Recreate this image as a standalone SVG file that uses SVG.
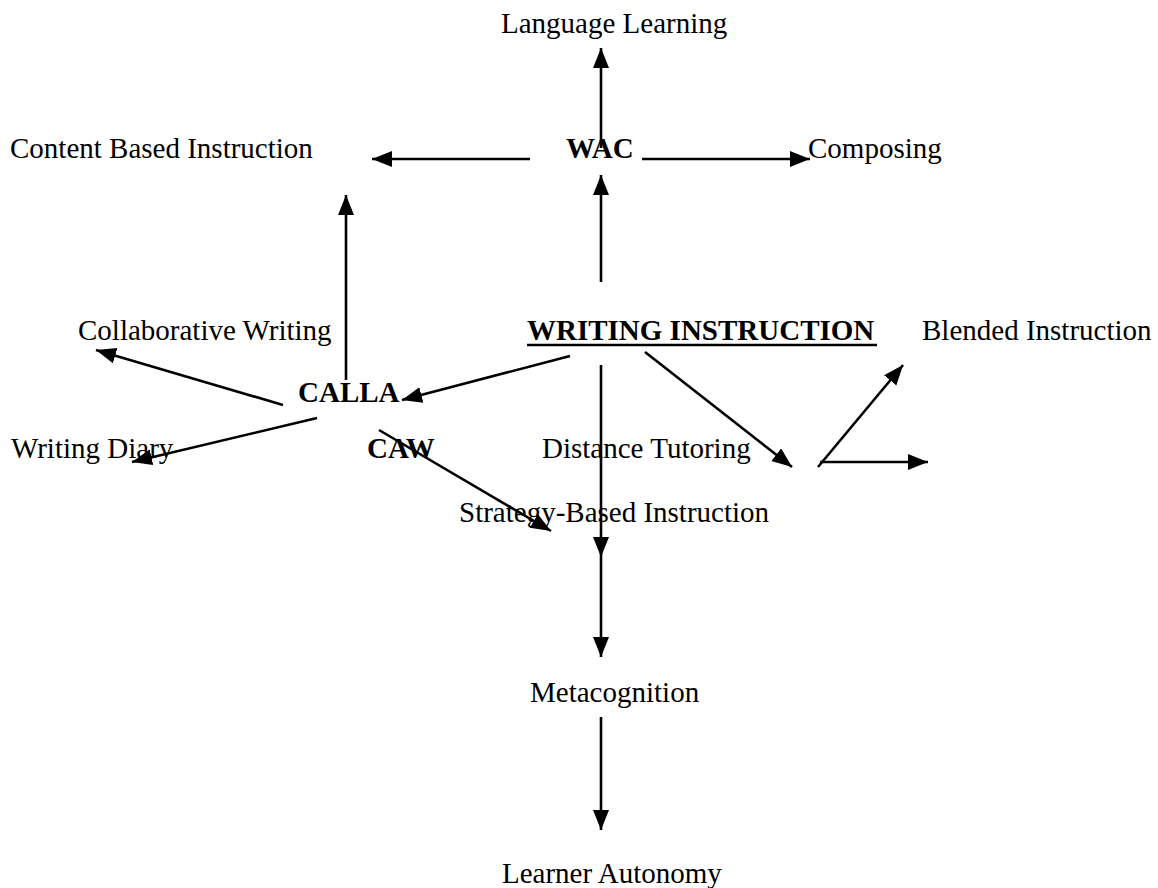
<svg xmlns="http://www.w3.org/2000/svg" width="1158" height="888" viewBox="0 0 1158 888">
<style>
text{font-family:"Liberation Serif","Times New Roman",serif;font-size:29px;fill:#000}
.b{font-weight:bold}
.c line{stroke:#000;stroke-width:2.6;marker-end:url(#ah)}
.c line.n{marker-end:none}
</style>
<defs>
<marker id="ah" markerUnits="userSpaceOnUse" markerWidth="22" markerHeight="18" refX="20" refY="8" orient="auto" viewBox="0 0 22 18">
<path d="M0,0 L20,8 L0,16 Z" fill="#000"/>
</marker>
</defs>
<rect width="1158" height="888" fill="#fff"/>
<g class="c" id="connectors">
<line x1="601" y1="148" x2="601" y2="48"/>
<line x1="530" y1="159" x2="372" y2="159"/>
<line x1="642" y1="159" x2="810" y2="159"/>
<line x1="601" y1="282" x2="601" y2="175"/>
<line x1="346" y1="380" x2="346" y2="195"/>
<line x1="570" y1="356" x2="402" y2="400"/>
<line x1="283" y1="405" x2="96" y2="350"/>
<line x1="317" y1="418" x2="132" y2="462"/>
<line x1="379" y1="430" x2="551" y2="531"/>
<line x1="601" y1="365" x2="601" y2="557"/>
<line x1="601" y1="557" x2="601" y2="657"/>
<line x1="645" y1="352" x2="792" y2="467"/>
<line x1="818" y1="467" x2="903" y2="365"/>
<line x1="820" y1="462" x2="928" y2="462"/>
<line x1="601" y1="717" x2="601" y2="830"/>
</g>
<g id="language-learning"><text x="501" y="33">Language Learning</text></g>
<g id="content-based"><text x="10" y="158">Content Based Instruction</text></g>
<g id="wac"><text class="b" x="566" y="158">WAC</text></g>
<g id="composing"><text x="808" y="158">Composing</text></g>
<g id="collaborative"><text x="78" y="340">Collaborative Writing</text></g>
<g id="writing-instruction"><text class="b" x="527" y="340">WRITING INSTRUCTION</text><line x1="527" y1="345" x2="877" y2="345" stroke="#000" stroke-width="2.6"/></g>
<g id="blended"><text x="922" y="340">Blended Instruction</text></g>
<g id="calla"><text class="b" x="298" y="402">CALLA</text></g>
<g id="writing-diary"><text x="11" y="458">Writing Diary</text></g>
<g id="caw"><text class="b" x="367" y="458">CAW</text></g>
<g id="distance"><text x="542" y="458">Distance Tutoring</text></g>
<g id="strategy"><text x="459" y="522">Strategy-Based Instruction</text></g>
<g id="metacognition"><text x="530" y="702">Metacognition</text></g>
<g id="learner-autonomy"><text x="502" y="883">Learner Autonomy</text></g>
</svg>
